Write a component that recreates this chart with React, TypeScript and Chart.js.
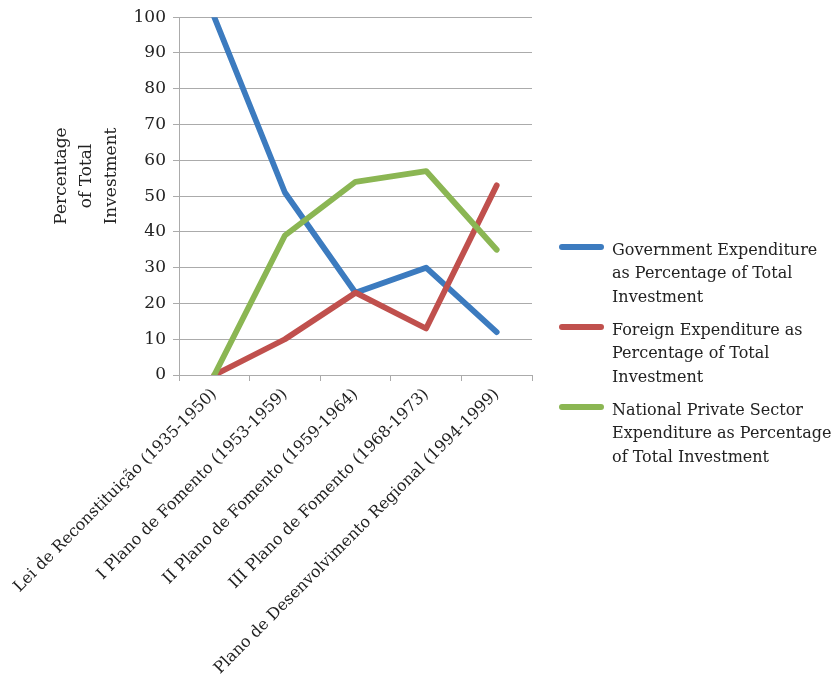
import React, { useEffect, useRef } from "react";
import { Chart, registerables } from "chart.js";

Chart.register(...registerables);

const categories = [
  "Lei de Reconstituição (1935-1950)",
  "I Plano de Fomento (1953-1959)",
  "II Plano de Fomento (1959-1964)",
  "III Plano de Fomento (1968-1973)",
  "Plano de Desenvolvimento Regional (1994-1999)",
];
const governmentValues = [100, 51, 23, 30, 12];
const foreignValues = [0, 10, 23, 13, 53];
const privateValues = [0, 39, 54, 57, 35];

const seriesNames = [
  "Government Expenditure as Percentage of Total Investment",
  "Foreign Expenditure as Percentage of Total Investment",
  "National Private Sector Expenditure as Percentage of Total Investment",
];
const legendLines = [
  ["Government Expenditure", "as Percentage of Total", "Investment"],
  ["Foreign Expenditure as", "Percentage of Total", "Investment"],
  ["National Private Sector", "Expenditure as Percentage", "of Total Investment"],
];
const yTitleLines = ["Percentage", "of Total", "Investment"];
const yMin = 0;
const yMax = 100;
const yStep = 10;

const seriesColors = ["#3C7BBF", "#C0504D", "#8BB653"];
const gridColor = "#ABABAB";
const textColor = "#222222";
const fontFamily = "'DejaVu Serif', serif";

const overlayPlugin = {
  id: "overlay",
  afterDraw(chart: any) {
    const ctx = chart.ctx as CanvasRenderingContext2D;
    const area = chart.chartArea;
    ctx.save();
    ctx.fillStyle = textColor;
    // Y axis title (three rotated lines)
    ctx.font = `17px ${fontFamily}`;
    yTitleLines.forEach((line, i) => {
      ctx.save();
      ctx.translate(62 + i * 25, 176);
      ctx.rotate(-Math.PI / 2);
      ctx.textAlign = "center";
      ctx.textBaseline = "middle";
      ctx.fillText(line, 0, 0);
      ctx.restore();
    });
    // Legend
    ctx.font = `16px ${fontFamily}`;
    const lx = area.right + 30;
    chart.data.datasets.forEach((ds: any, i: number) => {
      const y0 = 247 + i * 80;
      ctx.strokeStyle = ds.borderColor;
      ctx.lineWidth = 6;
      ctx.lineCap = "round";
      ctx.beginPath();
      ctx.moveTo(lx, y0);
      ctx.lineTo(lx + 39, y0);
      ctx.stroke();
      ctx.textAlign = "left";
      ctx.textBaseline = "alphabetic";
      legendLines[i].forEach((t, j) => {
        ctx.fillText(t, lx + 50, y0 + 8 + j * 23.3);
      });
    });
    ctx.restore();
  },
};

export default function App() {
  const ref = useRef<HTMLCanvasElement | null>(null);
  useEffect(() => {
    document.body.style.margin = "0";
    const canvas = ref.current!;
    const xFont = { family: fontFamily, size: 16 };
    const yFont = { family: fontFamily, size: 17 };
    const makeDs = (label: string, data: number[], color: string, order: number) => ({
      label,
      data,
      borderColor: color,
      backgroundColor: color,
      borderWidth: 5.8,
      borderCapStyle: "round",
      borderJoinStyle: "round",
      pointRadius: 0,
      tension: 0,
      fill: false,
      order,
    });
    const chart = new Chart(canvas, {
      type: "line",
      data: {
        labels: categories,
        datasets: [
          makeDs(seriesNames[0], governmentValues, seriesColors[0], 3),
          makeDs(seriesNames[1], foreignValues, seriesColors[1], 2),
          makeDs(seriesNames[2], privateValues, seriesColors[2], 1),
        ] as any,
      },
      options: {
        responsive: false,
        animation: false,
        layout: { padding: { left: 0, top: 15, right: 306, bottom: 0 } },
        plugins: {
          legend: { display: false },
          tooltip: { enabled: false },
          title: { display: false },
        },
        scales: {
          x: {
            offset: true,
            grid: {
              offset: true,
              drawOnChartArea: false,
              drawTicks: true,
              tickLength: 6,
              color: gridColor,
            },
            border: { display: true, color: gridColor },
            ticks: {
              autoSkip: false,
              maxRotation: 45,
              minRotation: 45,
              font: xFont,
              color: textColor,
              padding: 4,
            },
            afterFit(scale: any) {
              scale.height = 310;
              scale.paddingLeft = 0;
              scale.paddingRight = 0;
            },
          },
          y: {
            min: yMin,
            max: yMax,
            ticks: { stepSize: yStep, padding: 7, font: yFont, color: textColor },
            grid: { color: gridColor, tickLength: 6, drawTicks: true },
            border: { display: true, color: gridColor },
            afterFit(scale: any) {
              scale.width = 179;
            },
          },
        },
      },
      plugins: [overlayPlugin],
    });
    return () => chart.destroy();
  }, []);
  return (
    <div style={{ width: 838, height: 685 }}>
      <canvas ref={ref} width={838} height={685} style={{ display: "block" }} />
    </div>
  );
}
